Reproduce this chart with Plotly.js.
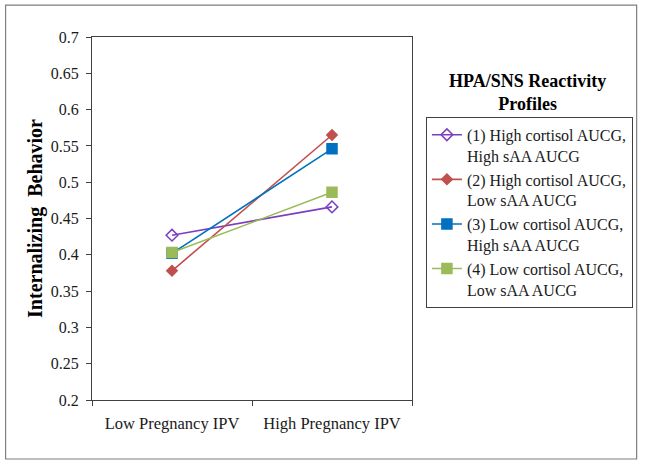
<!DOCTYPE html>
<html>
<head>
<meta charset="utf-8">
<script src="https://cdn.plot.ly/plotly-3.0.1.min.js"></script>
<style>html,body{margin:0;padding:0;background:#fff}#chart{width:645px;height:465px}</style>
</head>
<body>
<div id="chart"></div>
<script>
var categories = ["Low Pregnancy IPV", "High Pregnancy IPV"];
var seriesNames = [
  "(1) High cortisol AUCG,<br>High sAA AUCG",
  "(2) High cortisol AUCG,<br>Low sAA AUCG",
  "(3) Low cortisol AUCG,<br>High sAA AUCG",
  "(4) Low cortisol AUCG,<br>Low sAA AUCG"
];
var profile1 = [0.427, 0.466];
var profile2 = [0.378, 0.565];
var profile3 = [0.402, 0.546];
var profile4 = [0.403, 0.486];
var yTickVals = [0.2, 0.25, 0.3, 0.35, 0.4, 0.45, 0.5, 0.55, 0.6, 0.65, 0.7];
var yTickText = ["0.2", "0.25", "0.3", "0.35", "0.4", "0.45", "0.5", "0.55", "0.6", "0.65", "0.7"];

var serif = "Liberation Serif, Times New Roman, serif";
var colors = ["#7B3FBF", "#C0504D", "#0070C0", "#9BBB59"];
var symbols = ["diamond-open", "diamond", "square", "square"];
var sizes = [9, 8, 10, 10];
var data = [profile1, profile2, profile3, profile4].map(function (vals, i) {
  return {
    type: "scatter",
    mode: "lines+markers",
    x: categories,
    y: vals,
    name: seriesNames[i],
    line: {color: colors[i], width: 1.6},
    marker: {symbol: symbols[i], size: sizes[i], color: colors[i], line: {color: colors[i], width: 1.5}}
  };
});

var layout = {
  width: 645,
  height: 465,
  margin: {l: 92, r: 231, t: 37, b: 65},
  paper_bgcolor: "#ffffff",
  plot_bgcolor: "#ffffff",
  font: {family: serif, size: 16, color: "#000"},
  showlegend: true,
  xaxis: {
    type: "category",
    range: [-0.5, 1.5],
    showline: true, linecolor: "#404040", linewidth: 1, mirror: true,
    ticks: "outside", ticklen: 5, tickcolor: "#404040",
    tickson: "boundaries",
    ticklabelstandoff: 8,
    showgrid: false, zeroline: false,
    tickfont: {family: serif, size: 16.5, color: "#1a1a1a"}
  },
  yaxis: {
    range: [0.2, 0.7],
    tickvals: yTickVals,
    ticktext: yTickText,
    showline: true, linecolor: "#404040", linewidth: 1, mirror: true,
    ticks: "outside", ticklen: 5, tickcolor: "#404040",
    ticklabelstandoff: 4,
    showgrid: false, zeroline: false,
    tickfont: {family: serif, size: 16, color: "#1a1a1a"},
    title: {text: "<b>Internalizing  Behavior</b>", standoff: 2, font: {family: serif, size: 20, color: "#000"}}
  },
  legend: {
    x: 1.0435, xanchor: "left",
    y: 0.78, yanchor: "top",
    bordercolor: "#404040", borderwidth: 1,
    bgcolor: "#ffffff",
    font: {family: serif, size: 16, color: "#1a1a1a"},
    valign: "top",
    tracegroupgap: 0
  },
  annotations: [{
    xref: "paper", yref: "paper",
    x: 1.36, y: 0.848, xanchor: "center", yanchor: "middle",
    text: "<b>HPA/SNS Reactivity<br>Profiles</b>",
    showarrow: false,
    font: {family: serif, size: 18, color: "#000"}
  }],
  shapes: [{
    type: "rect", xref: "paper", yref: "paper",
    x0: -0.270, x1: 1.702, y0: -0.1625, y1: 1.088,
    line: {color: "#7f7f7f", width: 1.2},
    fillcolor: "rgba(0,0,0,0)",
    layer: "below"
  }]
};

Plotly.newPlot("chart", data, layout, {displayModeBar: false, staticPlot: true});
</script>
</body>
</html>
